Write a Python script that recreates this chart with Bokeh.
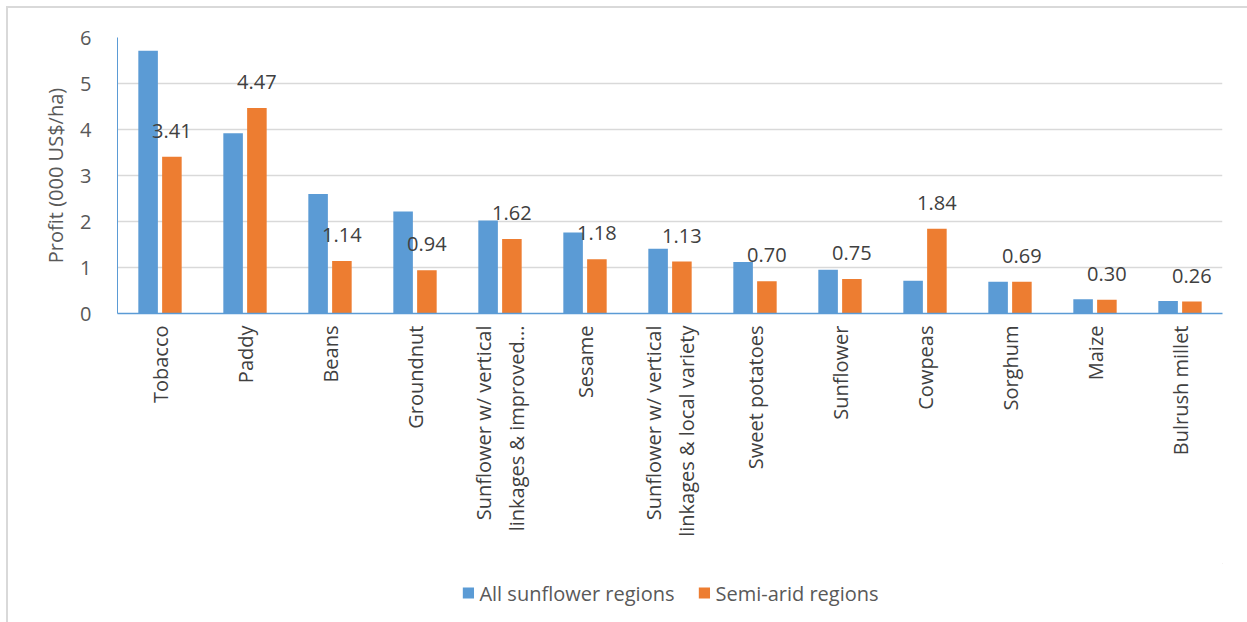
from bokeh.plotting import figure
from bokeh.layouts import column
from bokeh.models import ColumnDataSource, FactorRange, Range1d, LabelSet, Legend, LegendItem, FixedTicker
from bokeh.core.properties import value
from bokeh.transform import dodge
from bokeh.embed import file_html
from bokeh.resources import INLINE

categories = ["Tobacco", "Paddy", "Beans", "Groundnut",
              "Sunflower w/ vertical\nlinkages & improved...", "Sesame",
              "Sunflower w/ vertical\nlinkages & local variety", "Sweet potatoes",
              "Sunflower", "Cowpeas", "Sorghum", "Maize", "Bulrush millet"]
all_sunflower = [5.71, 3.92, 2.60, 2.22, 2.02, 1.76, 1.41, 1.12, 0.95, 0.71, 0.69, 0.31, 0.27]
semi_arid = [3.41, 4.47, 1.14, 0.94, 1.62, 1.18, 1.13, 0.70, 0.75, 1.84, 0.69, 0.30, 0.26]
semi_labels = ["%.2f" % v for v in semi_arid]
series_names = ["All sunflower regions", "Semi-arid regions"]
y_ticks = [0, 1, 2, 3, 4, 5, 6]

FONT = "Open Sans"
BLUE = "#5B9BD5"
ORANGE = "#ED7D31"
TXT = "#595959"

src = ColumnDataSource(dict(cat=categories, a=all_sunflower, s=semi_arid, lab=semi_labels))

p = figure(x_range=FactorRange(*categories, range_padding=0), y_range=Range1d(0, 6),
           frame_width=1105, frame_height=276,
           output_backend="svg", toolbar_location=None,
           min_border_left=109, min_border_right=25, min_border_top=29, min_border_bottom=250)
p.outline_line_color = None
p.background_fill_color = "white"

r1 = p.vbar(x=dodge("cat", -0.14, range=p.x_range), top="a", width=0.23, source=src,
            fill_color=BLUE, line_color=None)
r2 = p.vbar(x=dodge("cat", 0.14, range=p.x_range), top="s", width=0.23, source=src,
            fill_color=ORANGE, line_color=None)

labels = LabelSet(x=dodge("cat", 0.14, range=p.x_range), y="s", text="lab", source=src,
                  y_offset=26, text_align="center", text_baseline="middle",
                  text_font=value(FONT), text_font_size="20px", text_color="#404040")
p.add_layout(labels)

p.xgrid.grid_line_color = None
p.ygrid.grid_line_color = "#D9D9D9"
p.ygrid.grid_line_width = 1.5
p.yaxis.ticker = FixedTicker(ticks=y_ticks)

p.yaxis.axis_label = "Profit (000 US$/ha)"
p.yaxis.axis_label_text_font = FONT
p.yaxis.axis_label_text_font_size = "20px"
p.yaxis.axis_label_text_font_style = "normal"
p.yaxis.axis_label_text_color = TXT
p.yaxis.major_label_text_font = FONT
p.yaxis.major_label_text_font_size = "20px"
p.yaxis.major_label_text_color = TXT
p.yaxis.major_tick_line_color = None
p.yaxis.minor_tick_line_color = None
p.yaxis.axis_line_color = BLUE
p.yaxis.major_label_standoff = 20
p.yaxis.axis_label_standoff = 8

p.xaxis.major_label_orientation = 1.5708
p.xaxis.major_label_text_font = FONT
p.xaxis.major_label_text_font_size = "20px"
p.xaxis.major_label_text_color = "#404040"
p.xaxis.major_tick_line_color = None
p.xaxis.axis_line_color = BLUE
p.xaxis.axis_line_width = 1.5
p.xaxis.major_label_standoff = 6

# legend in a small figure below the chart (its swatch glyphs sit outside the visible range)
lg = figure(width=1239, height=59, x_range=Range1d(0, 1), y_range=Range1d(0, 1),
            output_backend="svg", toolbar_location=None,
            x_axis_location=None, y_axis_location=None,
            min_border_left=0, min_border_right=0, min_border_top=0, min_border_bottom=0)
lg.grid.visible = False
lg.outline_line_color = None
d1 = lg.vbar(x=[5], top=[5], bottom=[4], width=0.1, fill_color=BLUE, line_color=None)
d2 = lg.vbar(x=[5], top=[5], bottom=[4], width=0.1, fill_color=ORANGE, line_color=None)
legend = Legend(items=[LegendItem(label=series_names[0], renderers=[d1]),
                       LegendItem(label=series_names[1], renderers=[d2])],
                orientation="horizontal", location="center",
                label_text_font=FONT, label_text_font_size="20px", label_text_color=TXT,
                glyph_width=14, glyph_height=14, label_standoff=5, spacing=22,
                border_line_color=None, background_fill_alpha=0, margin=0)
lg.add_layout(legend, "center")

layout = column(p, lg, spacing=0, margin=(6, 0, 0, 6))
layout.styles = {"border-top": "2px solid #D9D9D9", "border-left": "2px solid #D9D9D9"}

open("out.html", "w").write(file_html(layout, INLINE))
